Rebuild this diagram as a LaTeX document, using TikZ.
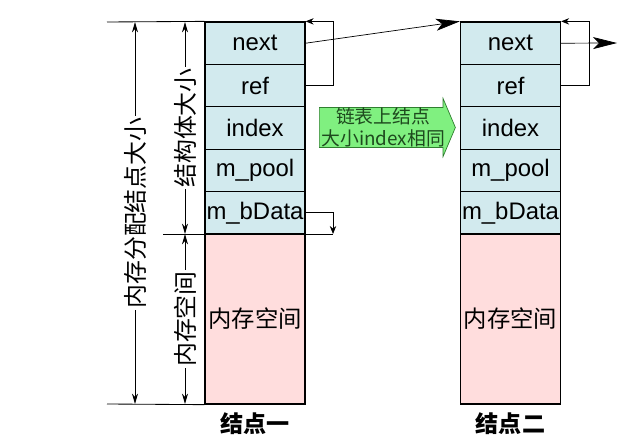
\documentclass[tikz,border=0pt]{standalone}
\usepackage{fontspec}
\setmainfont{Liberation Sans}
\newfontfamily\cjk{Noto Sans CJK SC}
\usetikzlibrary{arrows.meta,positioning,shapes.arrows}
\definecolor{memBlue}{HTML}{D2EAEE}
\definecolor{memPink}{HTML}{FFDDDD}
\definecolor{memGreen}{HTML}{80F080}
\definecolor{memGreenDark}{HTML}{2F7F2F}
\definecolor{memText}{HTML}{1E4A1E}
\tikzset{
  mem field/.style={draw=black, fill=memBlue, line width=0.9pt, minimum width=2.5cm, minimum height=1.06cm, inner sep=0pt, font=\fontsize{17}{18}\selectfont},
  mem space/.style={draw=black, fill=memPink, line width=0.9pt, minimum width=2.5cm, minimum height=4.25cm, inner sep=0pt, font=\cjk\fontsize{16.6}{18}\selectfont},
  mem dim/.style={draw=black, line width=0.6pt, {Stealth[length=2.6mm,width=1.5mm]}-{Stealth[length=2.6mm,width=1.5mm]}},
  mem dim label/.style={rotate=90, fill=white, inner sep=1pt, font=\cjk\fontsize{17}{18}\selectfont},
  mem line/.style={draw=black, line width=0.6pt},
  mem link/.style={draw=black, line width=0.6pt, -{Stealth[length=2mm,width=1.6mm]}},
  mem next/.style={draw=black, line width=0.5pt, -{Stealth[length=6mm,width=3mm,inset=1.5mm]}},
  mem caption/.style={font=\cjk\bfseries\fontsize{16.4}{18}\selectfont, inner sep=0pt},
  mem note/.style={single arrow, draw=memGreenDark, fill=memGreen, line width=0.5pt, align=center, inner sep=0pt, minimum height=3.4cm, single arrow head extend=0.225cm, single arrow tip angle=134, text=memText, font=\cjk\fontsize{13.4}{15.5}\selectfont},
}
\begin{document}
\begin{tikzpicture}[x=0.025cm, y=-0.025cm]
  \useasboundingbox (0,0) rectangle (638,446);

  % The two list nodes: five fields and the memory block below them
  \foreach \col/\cx in {a/255, b/510.5} {
    \foreach \name/\txt [count=\i] in {next/next, ref/ref, index/index, pool/m\_pool, data/m\_bData} {
      \node[mem field] (\col\name) at (\cx, {22+42.4*(\i-0.5)}) {\txt};
    }
    \node[mem space] (\col mem) at (\cx, 319) {内存空间};
  }
  \node[mem caption, below=0.2cm of amem] (acap) {结点一};
  \node[mem caption, below=0.2cm of bmem] (bcap) {结点二};

  % Extension lines for the size marks
  \coordinate (topL) at (107,22);
  \coordinate (botL) at (107,404);
  \coordinate (midL) at (163,234);
  \coordinate (dataEnd) at (333,234);
  \draw[mem line] (topL) -- (anext.north west);
  \draw[mem line] (botL) -- (amem.south west);
  \draw[mem line] (midL) -- (dataEnd);

  % Size marks with vertical labels
  \coordinate (allocTop) at (135,22);
  \coordinate (allocBot) at (135,404);
  \coordinate (structTop) at (185,22);
  \coordinate (structMid) at (185,234);
  \coordinate (spaceBot) at (185,404);
  \draw[mem dim] (allocTop) -- node[mem dim label] (allocLabel) {内存分配结点大小} (allocBot);
  \draw[mem dim] (structTop) -- node[mem dim label] (structLabel) {结构体大小} (structMid);
  \draw[mem dim] (structMid) -- node[mem dim label] (spaceLabel) {内存空间} (spaceBot);

  % Pointers between the nodes
  \draw[mem link] (aref.east) -- ++(28,0) |- (anext.north east);
  \draw[mem link] (bref.east) -- ++(28,0) |- (bnext.north east);
  \draw[mem link] (adata.east) -| (dataEnd);
  \coordinate (bnull) at (617,43);
  \draw[mem next] (anext.east) -- (bnext.north west);
  \draw[mem next] (bnext.east) -- (bnull);

  % Note between the two nodes
  \node[mem note, anchor=tail] (note) at (319,127.5) {链表上结点\\大小index相同};
\end{tikzpicture}
\end{document}
